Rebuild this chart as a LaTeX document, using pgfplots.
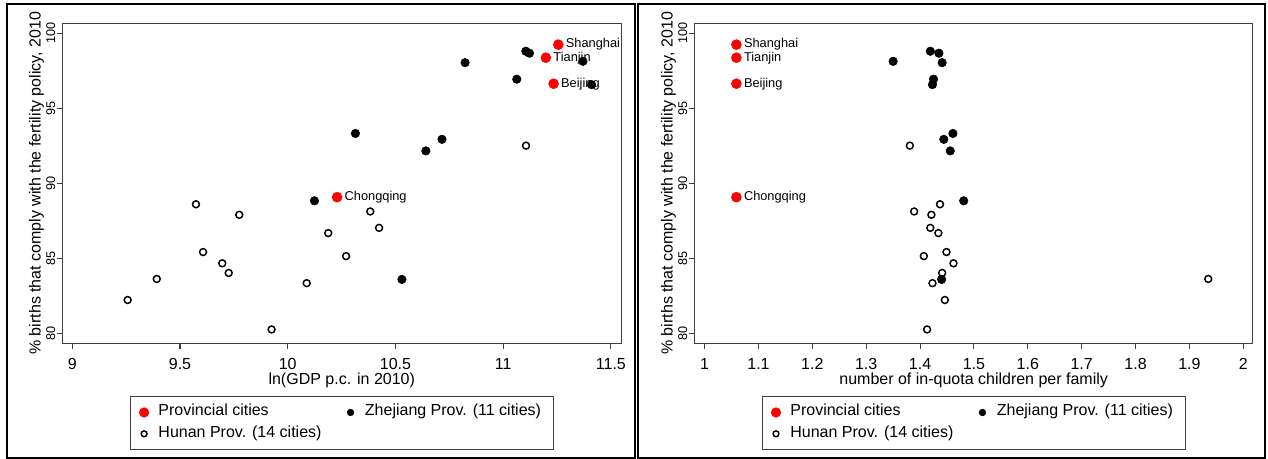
\documentclass[border=0pt]{standalone}
\usepackage{pgfplots}
\pgfplotsset{compat=1.18}
\usepackage{pgfplotstable}
\usepackage{fontspec}
\setmainfont{Liberation Sans}
\definecolor{axgray}{gray}{0.25}

\pgfplotstableread{
x y label
11.256 99.23 Shanghai
11.198 98.36 Tianjin
11.234 96.63 Beijing
10.229 89.08 Chongqing
}\provL
\pgfplotstableread{
x y
11.105 98.79
11.122 98.66
11.370 98.12
10.823 98.03
11.063 96.93
11.410 96.57
10.314 93.32
10.716 92.93
10.641 92.16
10.124 88.84
10.530 83.61
}\zheL
\pgfplotstableread{
x y
11.106 92.51
9.574 88.61
9.775 87.91
10.383 88.13
10.424 87.04
10.188 86.69
9.607 85.43
10.271 85.16
9.696 84.68
9.726 84.04
9.392 83.64
10.088 83.36
9.257 82.24
9.925 80.28
}\hunL
\pgfplotstableread{
x y label
1.059 99.23 Shanghai
1.059 98.36 Tianjin
1.059 96.63 Beijing
1.059 89.08 Chongqing
}\provR
\pgfplotstableread{
x y
1.419 98.79
1.435 98.66
1.350 98.12
1.441 98.03
1.425 96.93
1.423 96.57
1.461 93.32
1.444 92.93
1.456 92.16
1.481 88.84
1.440 83.61
}\zheR
\pgfplotstableread{
x y
1.381 92.51
1.437 88.61
1.421 87.91
1.389 88.13
1.419 87.04
1.434 86.69
1.449 85.43
1.407 85.16
1.462 84.68
1.441 84.04
1.935 83.64
1.423 83.36
1.446 82.24
1.413 80.28
}\hunR

\pgfplotsset{
  panel/.style={
    scale only axis, width=418.9pt, height=240pt,
    anchor=south west,
    ymin=79.36, ymax=100.65,
    ytick={80,85,90,95,100},
    axis line style={axgray, line width=0.8pt},
    tick align=outside, tick pos=left,
    major tick length=4.2pt,
    every tick/.style={axgray, line width=0.8pt},
    /pgf/number format/assume math mode=true,
    xticklabel style={font=\fontsize{12}{14}\selectfont, yshift=-3.5pt},
    yticklabel style={font=\fontsize{9.5}{11}\selectfont, rotate=90, anchor=south, inner sep=1pt},
    label style={font=\fontsize{12}{14}\selectfont},
    ylabel={\% births that comply with the fertility policy, 2010},
    ylabel style={at={(axis description cs:-0.039,0.5)}, anchor=base},
    xlabel style={at={(axis description cs:0.5,-0.115)}, anchor=center},
    legend columns=2,
    legend cell align=left,
    legend style={
      at={(0.5,-0.165)}, anchor=north,
      draw=axgray, line width=0.6pt,
      font=\fontsize{12}{14}\selectfont,
      inner xsep=4.3pt, inner ysep=7pt,
      nodes={inner ysep=0pt, inner xsep=4.8pt, text height=0.75em, text depth=0.25em},
      row sep=6pt,
      /tikz/every even column/.append style={column sep=11pt},
    },
    clip=false,
  },
  provst/.style={only marks, mark=*, color=red, mark size=3.75pt,
    mark options={fill=red, draw=red, line width=0.4pt},
    nodes near coords, point meta=explicit symbolic,
    every node near coord/.append style={anchor=west, xshift=5.5pt, inner sep=0pt, text=black, font=\fontsize{9.6}{11}\selectfont},
    legend image code/.code={\path (0cm,0cm) (0.4cm,0cm); \draw[##1, only marks, mark size=3.6pt] plot coordinates {(0.2cm,0cm)};}},
  zhest/.style={only marks, mark=*, color=black, mark size=3.2pt,
    mark options={fill=black, draw=black, line width=0.4pt},
    legend image code/.code={\path (0cm,0cm) (0.4cm,0cm); \draw[##1, only marks, mark size=2.5pt] plot coordinates {(0.2cm,0cm)};}},
  hunst/.style={only marks, mark=o, color=black, mark size=2.6pt,
    mark options={fill=white, draw=black, line width=1.1pt},
    legend image code/.code={\path (0cm,0cm) (0.4cm,0cm); \draw[##1, only marks, mark size=2.2pt] plot coordinates {(0.2cm,0cm)};}},
}

\begin{document}
\begin{tikzpicture}
\useasboundingbox (0pt,0pt) rectangle (951pt,344.25pt);
\draw[line width=1.6pt] (5.25pt,0.9pt) rectangle (476.25pt,341.1pt);
\draw[line width=1.6pt] (478.275pt,0.9pt) rectangle (948.975pt,341.1pt);

\begin{axis}[panel, at={(46.875pt,86.775pt)},
  xmin=8.9545, xmax=11.547,
  xtick={9,9.5,10,10.5,11,11.5},
  xlabel={ln(GDP p.c. in 2010)}]
\addplot[provst] table[x=x, y=y, meta=label] {\provL};
\addlegendentry{Provincial cities}
\addplot[zhest] table[x=x, y=y] {\zheL};
\addlegendentry{Zhejiang Prov. (11 cities)}
\addplot[hunst] table[x=x, y=y] {\hunL};
\addlegendentry{Hunan Prov. (14 cities)}
\end{axis}

\begin{axis}[panel, at={(520.8pt,86.775pt)},
  xmin=0.981, xmax=2.018,
  xtick={1,1.1,1.2,1.3,1.4,1.5,1.6,1.7,1.8,1.9,2},
  xticklabels={1,1.1,1.2,1.3,1.4,1.5,1.6,1.7,1.8,1.9,2},
  xlabel={number of in-quota children per family}]
\addplot[provst] table[x=x, y=y, meta=label] {\provR};
\addlegendentry{Provincial cities}
\addplot[zhest] table[x=x, y=y] {\zheR};
\addlegendentry{Zhejiang Prov. (11 cities)}
\addplot[hunst] table[x=x, y=y] {\hunR};
\addlegendentry{Hunan Prov. (14 cities)}
\end{axis}
\end{tikzpicture}
\end{document}
